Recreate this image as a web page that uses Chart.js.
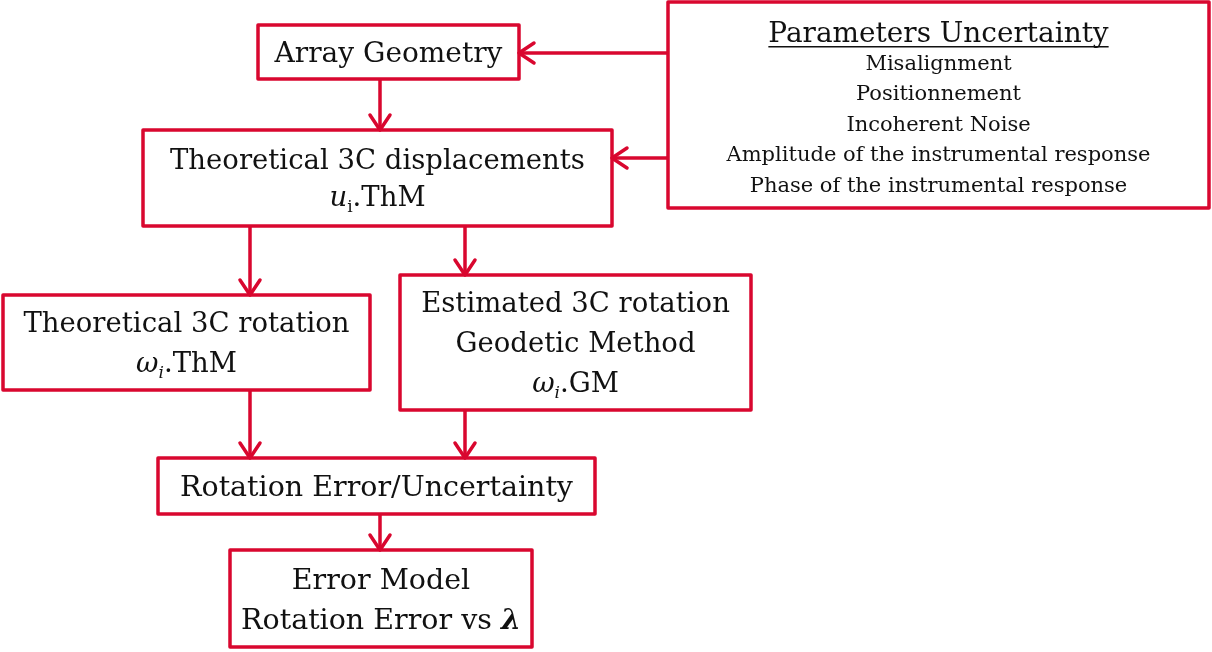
<!DOCTYPE html>
<html>
<head>
<meta charset="utf-8">
<script src="https://cdn.jsdelivr.net/npm/chart.js@4.4.1/dist/chart.umd.min.js"></script>
<style>
  html, body { margin: 0; padding: 0; background: #fff; }
  #wrap { width: 1212px; height: 652px; position: relative; }
</style>
</head>
<body>
<div id="wrap"><canvas id="flow"></canvas></div>
<script>
// ── flowchart data (chart units = picture pixels) ──
const boxNames  = ['geometry', 'displacements', 'params', 'theoRot', 'estRot', 'rotError', 'errModel'];
const boxLeft   = [258, 143, 668,   3, 400, 158, 230];
const boxTop    = [ 25, 130,   2, 295, 275, 458, 550];
const boxRight  = [519, 612, 1209, 370, 751, 595, 532];
const boxBottom = [ 79, 226, 208, 390, 410, 514, 647];

// text of each box, one entry per line; a line is a list of runs
// run: [text, style]  style: '' normal, 'i' italic, 'sub' subscript, 'bi' bold italic, 'u' underlined title
const boxLines = [
  [[['Array Geometry', '']]],
  [[['Theoretical 3C displacements', '']], [['u', 'i'], ['i', 'sub'], ['.ThM', '']]],
  [[['Parameters Uncertainty', 'u']],
   [['Misalignment', '']],
   [['Positionnement', '']],
   [['Incoherent Noise', '']],
   [['Amplitude of the instrumental response', '']],
   [['Phase of the instrumental response', '']]],
  [[['Theoretical 3C rotation', '']], [['\u03c9', 'i'], ['i', 'subi'], ['.ThM', '']]],
  [[['Estimated 3C rotation', '']], [['Geodetic Method', '']], [['\u03c9', 'i'], ['i', 'subi'], ['.GM', '']]],
  [[['Rotation Error/Uncertainty', '']]],
  [[['Error Model', '']], [['Rotation Error vs ', ''], ['\u03bb', 'bi']]]
];
const boxFontSize   = [28, 27.5, 21, 27.5, 27.5, 28.5, 28.5];
const boxLineHeight = [38, 37, 30.5, 40, 40, 38, 40];
const boxTextShift  = [0, 0, 3, 0, 0, 0, 0];

// arrows: start and end point (head at the end)
const arrowFromX = [668, 668, 380, 250, 465, 250, 465, 380];
const arrowFromY = [ 53, 158,  79, 226, 226, 390, 410, 514];
const arrowToX   = [519, 612, 380, 250, 465, 250, 465, 380];
const arrowToY   = [ 53, 158, 130, 295, 275, 458, 458, 550];

const RED = '#d9072f';
const INK = '#111111';
const FONT = "'DejaVu Serif', 'Liberation Serif', serif";

// ── build datasets ──
const datasets = [];

boxNames.forEach((name, i) => {
  const l = boxLeft[i], t = boxTop[i], r = boxRight[i], b = boxBottom[i];
  datasets.push({
    label: name,
    // goes one side past the start so the first corner is joined too
    data: [{x: l, y: t}, {x: r, y: t}, {x: r, y: b}, {x: l, y: b}, {x: l, y: t}, {x: r, y: t}],
    borderColor: RED,
    borderWidth: 3.5,
    borderJoinStyle: 'round',
    pointRadius: 0,
    showLine: true,
    tension: 0
  });
});

arrowFromX.forEach((fx, i) => {
  const fy = arrowFromY[i], tx = arrowToX[i], ty = arrowToY[i];
  // shaft
  datasets.push({
    label: 'arrow' + i,
    data: [{x: fx, y: fy}, {x: tx, y: ty}],
    borderColor: RED, borderWidth: 3.5, pointRadius: 0, showLine: true
  });
  // open chevron head
  const len = Math.hypot(tx - fx, ty - fy);
  const ux = (tx - fx) / len, uy = (ty - fy) / len;
  const back = 15, spread = 10;
  datasets.push({
    label: 'head' + i,
    data: [
      {x: tx - ux * back - uy * spread, y: ty - uy * back + ux * spread},
      {x: tx, y: ty},
      {x: tx - ux * back + uy * spread, y: ty - uy * back - ux * spread}
    ],
    borderColor: RED, borderWidth: 3.5, borderJoinStyle: 'round', borderCapStyle: 'round',
    pointRadius: 0, showLine: true
  });
});

// ── text plugin ──
function runSize(style, size) {
  if (style === 'u') return size * 1.33;
  if (style === 'sub' || style === 'subi') return Math.round(size * 0.62);
  return size;
}
function runFont(style, size) {
  const s = runSize(style, size);
  if (style === 'i' || style === 'subi') return 'italic ' + s + 'px ' + FONT;
  if (style === 'bi') return 'italic bold ' + s + 'px ' + FONT;
  return s + 'px ' + FONT;
}

const boxText = {
  id: 'boxText',
  afterDatasetsDraw(chart) {
    const ctx = chart.ctx;
    const xs = chart.scales.x, ys = chart.scales.y;
    ctx.save();
    ctx.fillStyle = INK;
    ctx.strokeStyle = INK;
    ctx.textBaseline = 'alphabetic';
    ctx.textAlign = 'left';
    boxLines.forEach((lines, i) => {
      const size = boxFontSize[i], lh = boxLineHeight[i];
      const cx = (xs.getPixelForValue(boxLeft[i]) + xs.getPixelForValue(boxRight[i])) / 2;
      const cy = (ys.getPixelForValue(boxTop[i]) + ys.getPixelForValue(boxBottom[i])) / 2 + boxTextShift[i];
      lines.forEach((runs, k) => {
        const lineY = cy + (k - (lines.length - 1) / 2) * lh;
        const base = lineY + runSize(runs[0][1], size) * 0.36;
        let total = 0;
        runs.forEach(([txt, st]) => { ctx.font = runFont(st, size); total += ctx.measureText(txt).width; });
        let x = cx - total / 2;
        runs.forEach(([txt, st]) => {
          ctx.font = runFont(st, size);
          const w = ctx.measureText(txt).width;
          const y = (st === 'sub' || st === 'subi') ? base + size * 0.2 : base;
          ctx.fillText(txt, x, y);
          if (st === 'u') {
            ctx.lineWidth = 1.5;
            ctx.beginPath();
            ctx.moveTo(x, base + 5);
            ctx.lineTo(x + w, base + 5);
            ctx.stroke();
          }
          x += w;
        });
      });
    });
    ctx.restore();
  }
};

new Chart(document.getElementById('flow'), {
  type: 'scatter',
  data: { datasets },
  options: {
    responsive: true,
    maintainAspectRatio: false,
    animation: false,
    layout: { padding: 0 },
    plugins: { legend: { display: false }, tooltip: { enabled: false } },
    scales: {
      x: { type: 'linear', min: 0, max: 1212, display: false },
      y: { type: 'linear', min: 0, max: 652, reverse: true, display: false }
    }
  },
  plugins: [boxText]
});
</script>
</body>
</html>
